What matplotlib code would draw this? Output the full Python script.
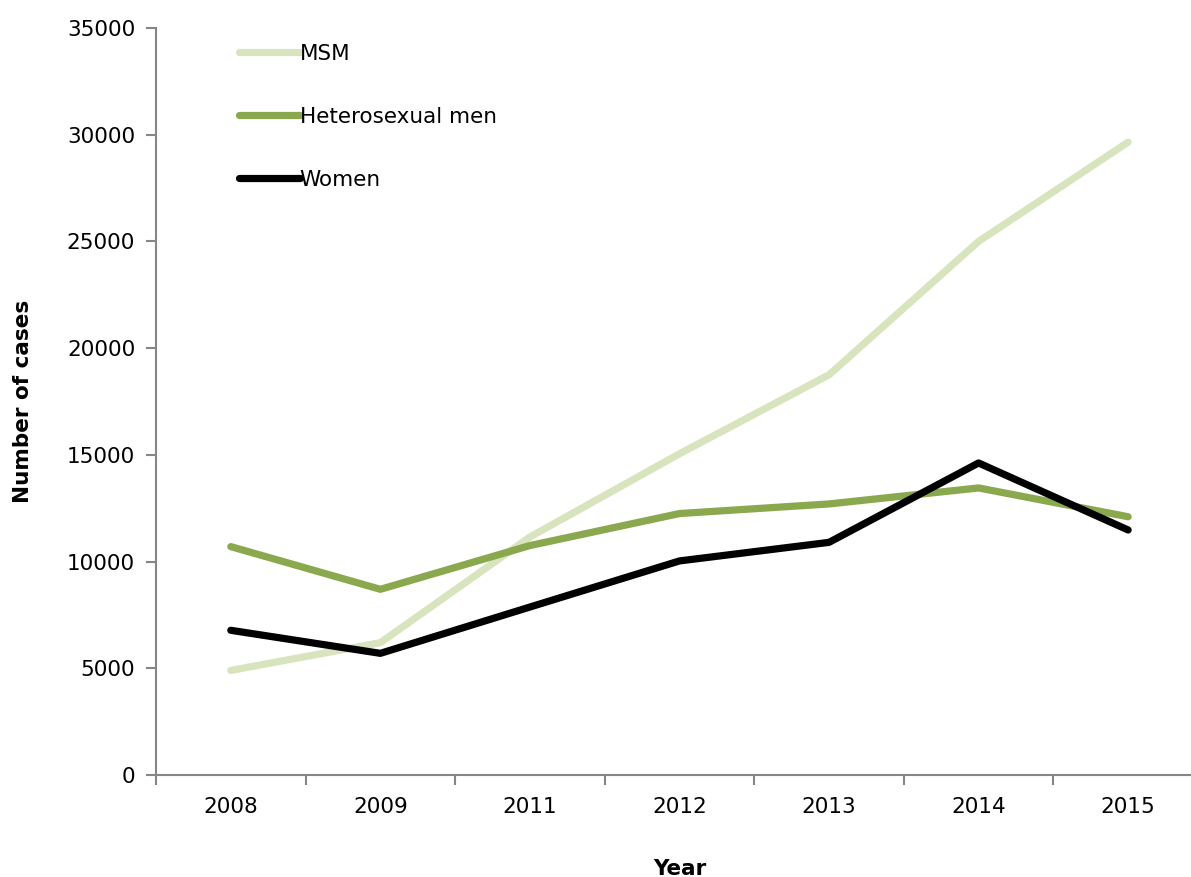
import numpy as np
import matplotlib
matplotlib.use("Agg")
import matplotlib.pyplot as plt

# data
years = ["2008", "2009", "2011", "2012", "2013", "2014", "2015"]
msm = [4900, 6200, 11150, 15050, 18750, 25000, 29650]
hetero_men = [10700, 8700, 10750, 12250, 12700, 13450, 12100]
women = [6780, 5700, 7870, 10030, 10900, 14620, 11480]

plt.rcParams['font.family'] = ['DejaVu Sans']
fs = 15.5

fig = plt.figure(figsize=(11.91, 8.77), dpi=100)
ax = fig.add_axes([0.131, 0.1163, 0.879, 0.8518])

x = np.arange(len(years))
ax.plot(x, msm, color="#d7e4bd", lw=5.2, solid_capstyle="round",
        solid_joinstyle="round", label="MSM")
ax.plot(x, hetero_men, color="#8aa84e", lw=5.2, solid_capstyle="round",
        solid_joinstyle="round", label="Heterosexual men")
ax.plot(x, women, color="black", lw=5.2, solid_capstyle="round",
        solid_joinstyle="round", label="Women")

ax.set_xlim(-0.5, len(years) - 0.5)
ax.set_ylim(0, 35000)
ax.set_yticks(np.arange(0, 35001, 5000))
ax.set_xticks(x)
ax.set_xticklabels(years)
# ticks between categories, like the original
ax.set_xticks(np.arange(-0.5, len(years)), minor=True)
ax.tick_params(axis="x", which="major", length=0, pad=16, labelsize=fs)
ax.tick_params(axis="x", which="minor", length=7, width=1.5, color="#868686")
ax.tick_params(axis="y", length=7, width=1.5, color="#868686", pad=8,
               labelsize=fs)

for s in ["top", "right"]:
    ax.spines[s].set_visible(False)
for s in ["left", "bottom"]:
    ax.spines[s].set_color("#868686")
    ax.spines[s].set_linewidth(1.5)

ax.set_ylabel("Number of cases", fontsize=fs, fontweight="bold", labelpad=24)
ax.set_xlabel("Year", fontsize=fs, fontweight="bold", labelpad=30)

leg = ax.legend(loc="upper left", bbox_to_anchor=(0.061, 1.005), frameon=False,
                fontsize=fs, handlelength=2.8, handletextpad=0.0,
                labelspacing=2.0)
for h in leg.get_lines():
    h.set_solid_capstyle("round")

fig.savefig("out.png", dpi=100)
